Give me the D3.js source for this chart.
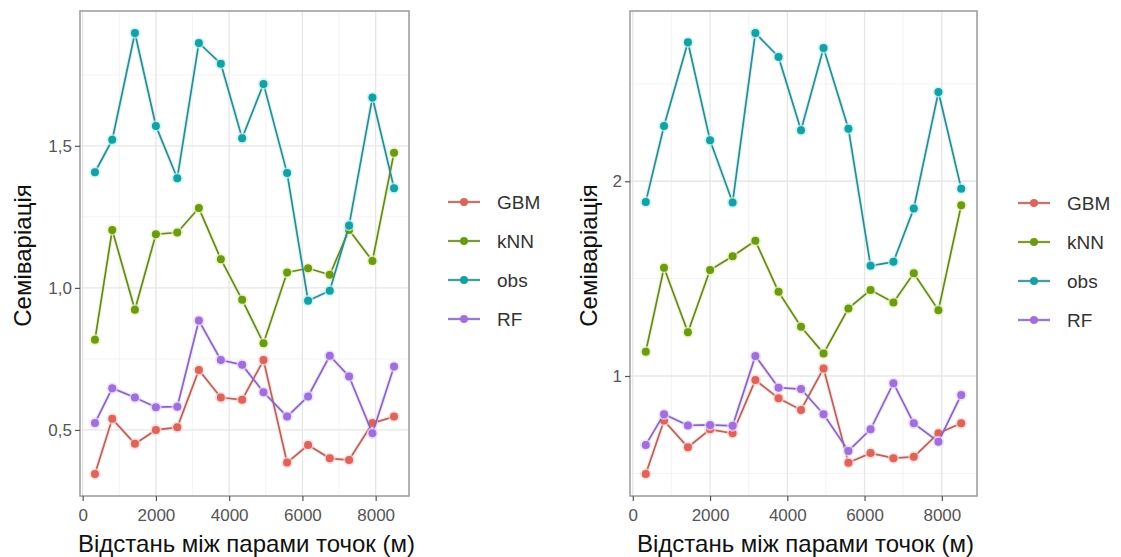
<!DOCTYPE html>
<html><head><meta charset="utf-8">
<script src="https://cdn.jsdelivr.net/npm/d3@7"></script>
<style>body{margin:0;background:#fff}svg{display:block}</style>
</head><body><svg id="c" width="1121" height="557"></svg>
<script>
const distances = [336, 808, 1427, 2000, 2584, 3173, 3773, 4355, 4938, 5582, 6155, 6747, 7274, 7912, 8502];
const seriesNames = ["GBM", "kNN", "obs", "RF"];
// left panel
const leftGBM = [0.345, 0.539, 0.451, 0.500, 0.509, 0.711, 0.614, 0.606, 0.746, 0.385, 0.447, 0.400, 0.394, 0.524, 0.547];
const leftKNN = [0.817, 1.204, 0.923, 1.189, 1.195, 1.281, 1.101, 0.958, 0.805, 1.054, 1.069, 1.046, 1.204, 1.095, 1.476];
const leftObs = [1.407, 1.521, 1.897, 1.570, 1.386, 1.862, 1.789, 1.527, 1.718, 1.404, 0.955, 0.990, 1.220, 1.670, 1.351];
const leftRF  = [0.524, 0.647, 0.614, 0.580, 0.582, 0.885, 0.746, 0.729, 0.633, 0.547, 0.618, 0.761, 0.688, 0.488, 0.723];
// right panel
const rightGBM = [0.497, 0.771, 0.634, 0.726, 0.706, 0.979, 0.886, 0.826, 1.039, 0.555, 0.604, 0.578, 0.585, 0.706, 0.757];
const rightKNN = [1.125, 1.556, 1.224, 1.544, 1.615, 1.694, 1.432, 1.253, 1.116, 1.347, 1.441, 1.378, 1.527, 1.338, 1.877];
const rightObs = [1.894, 2.284, 2.714, 2.210, 1.891, 2.761, 2.638, 2.262, 2.684, 2.270, 1.566, 1.586, 1.860, 2.458, 1.962];
const rightRF  = [0.646, 0.804, 0.746, 0.749, 0.744, 1.103, 0.940, 0.933, 0.804, 0.615, 0.726, 0.963, 0.757, 0.663, 0.903];

const xTicks = [0, 2000, 4000, 6000, 8000];
const xMinor = [1000, 3000, 5000, 7000];
const leftYTicks = [0.5, 1.0, 1.5];
const leftYMinor = [0.75, 1.25, 1.75];
const leftYLabels = ["0,5", "1,0", "1,5"];
const rightYTicks = [1, 2];
const rightYMinor = [0.5, 1.5, 2.5];
const rightYLabels = ["1", "2"];
const xTitle = "Відстань між парами точок (м)";
const yTitle = "Семіваріація";

const pointColor = {GBM:"#dc645c", kNN:"#6c9a16", obs:"#16a0a4", RF:"#a070da"};
const lineColor  = {GBM:"#b0665f", kNN:"#66862c", obs:"#37878d", RF:"#8768bf"};
const haloColor  = {GBM:"#fbd3cf", kNN:"#e6f3b0", obs:"#b8f2f4", RF:"#ead6ff"};

const svg = d3.select("#c");
const font = "'Liberation Sans', Arial, sans-serif";

function panel(cfg){
  const {x0,x1,y0,y1,data,yTicks,yMinor,yLabels,titleX,legX,legY} = cfg;
  const all = seriesNames.flatMap(s=>data[s]);
  const ymin = d3.min(all), ymax = d3.max(all), yr = ymax-ymin;
  const xmin = d3.min(distances), xmax = d3.max(distances), xr = xmax-xmin;
  const x = d3.scaleLinear().domain([xmin-0.05*xr, xmax+0.05*xr]).range([x0,x1]);
  const y = d3.scaleLinear().domain([ymin-0.05*yr, ymax+0.05*yr]).range([y1,y0]);
  const g = svg.append("g");
  // grid
  g.selectAll(".gmx").data(xMinor).join("line").attr("x1",d=>x(d)).attr("x2",d=>x(d)).attr("y1",y0).attr("y2",y1).attr("stroke","#f0f0f0").attr("stroke-width",0.8);
  g.selectAll(".gmy").data(yMinor.filter(v=>v>y.domain()[0]&&v<y.domain()[1])).join("line").attr("x1",x0).attr("x2",x1).attr("y1",d=>y(d)).attr("y2",d=>y(d)).attr("stroke","#f0f0f0").attr("stroke-width",0.8);
  g.selectAll(".gx").data(xTicks).join("line").attr("x1",d=>x(d)).attr("x2",d=>x(d)).attr("y1",y0).attr("y2",y1).attr("stroke","#e6e6e6").attr("stroke-width",1.3);
  g.selectAll(".gy").data(yTicks).join("line").attr("x1",x0).attr("x2",x1).attr("y1",d=>y(d)).attr("y2",d=>y(d)).attr("stroke","#e6e6e6").attr("stroke-width",1.3);
  // series
  const line = d3.line().x((d,i)=>x(distances[i])).y(d=>y(d));
  seriesNames.forEach(s=>{
    g.append("path").attr("d",line(data[s])).attr("fill","none").attr("stroke",haloColor[s]).attr("stroke-width",4).attr("opacity",0.6);
  });
  seriesNames.forEach(s=>{
    g.append("path").attr("d",line(data[s])).attr("fill","none").attr("stroke",lineColor[s]).attr("stroke-width",1.7);
    g.selectAll(null).data(data[s]).join("circle").attr("cx",(d,i)=>x(distances[i])).attr("cy",d=>y(d)).attr("r",5.8).attr("fill",haloColor[s]).attr("opacity",0.7);
    g.selectAll(null).data(data[s]).join("circle").attr("cx",(d,i)=>x(distances[i])).attr("cy",d=>y(d)).attr("r",4).attr("fill",pointColor[s]);
  });
  // border
  g.append("rect").attr("x",x0).attr("y",y0).attr("width",x1-x0).attr("height",y1-y0).attr("fill","none").attr("stroke","#9a9a9a").attr("stroke-width",1.5);
  // axes
  const ax = d3.axisBottom(x).tickValues(xTicks).tickFormat(d3.format("d")).tickSize(5).tickPadding(8);
  const axg = g.append("g").attr("transform",`translate(0,${y1})`).call(ax);
  const ay = d3.axisLeft(y).tickValues(yTicks).tickFormat((d,i)=>yLabels[i]).tickSize(5).tickPadding(3);
  const ayg = g.append("g").attr("transform",`translate(${x0},0)`).call(ay);
  [axg,ayg].forEach(a=>{
    a.select(".domain").remove();
    a.selectAll(".tick line").attr("stroke","#555").attr("stroke-width",1.2);
    a.selectAll(".tick text").attr("fill","#555").style("font-family",font).style("font-size","17px");
  });
  // titles
  svg.append("text").attr("x",(x0+x1)/2+2).attr("y",552).attr("text-anchor","middle").style("font-family",font).style("font-size","24px").attr("fill","#111").text(xTitle);
  svg.append("text").attr("transform",`translate(${titleX},${(y0+y1)/2+2}) rotate(-90)`).attr("text-anchor","middle").attr("dy","0.35em").style("font-family",font).style("font-size","24px").attr("fill","#111").text(yTitle);
  // legend
  seriesNames.forEach((s,i)=>{
    const ly = legY + i*39;
    svg.append("line").attr("x1",legX).attr("x2",legX+32).attr("y1",ly).attr("y2",ly).attr("stroke",haloColor[s]).attr("stroke-width",4).attr("opacity",0.6);
    svg.append("line").attr("x1",legX).attr("x2",legX+32).attr("y1",ly).attr("y2",ly).attr("stroke",lineColor[s]).attr("stroke-width",1.7);
    svg.append("circle").attr("cx",legX+16).attr("cy",ly).attr("r",4).attr("fill",pointColor[s]);
    svg.append("text").attr("x",legX+49).attr("y",ly).attr("dy","0.35em").style("font-family",font).style("font-size","19px").attr("fill","#333").text(s);
  });
}

panel({x0:80,x1:409,y0:11,y1:496,
  data:{GBM:leftGBM,kNN:leftKNN,obs:leftObs,RF:leftRF},
  yTicks:leftYTicks,yMinor:leftYMinor,yLabels:leftYLabels,titleX:23,legX:448,legY:202});
panel({x0:630,x1:977,y0:11,y1:496,
  data:{GBM:rightGBM,kNN:rightKNN,obs:rightObs,RF:rightRF},
  yTicks:rightYTicks,yMinor:rightYMinor,yLabels:rightYLabels,titleX:589,legX:1018,legY:203});
</script></body></html>
